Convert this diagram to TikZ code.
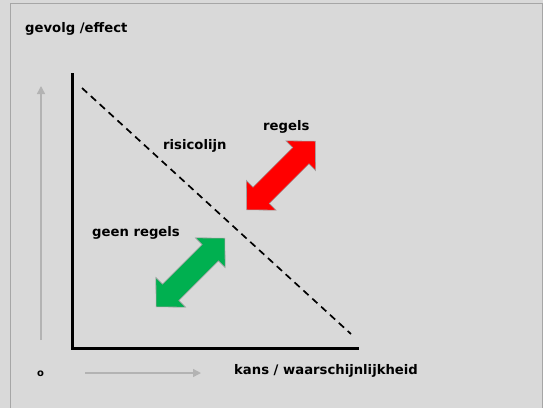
\documentclass[tikz,border=0pt]{standalone}
\usepackage{fontspec}
\setmainfont{DejaVu Sans}
\usepackage{xcolor}
\usepackage{tikz}
\usetikzlibrary{arrows.meta,positioning}

\definecolor{achtergrond}{HTML}{D9D9D9}
\definecolor{kader}{HTML}{A6A6A6}
\definecolor{hulppijl}{HTML}{B3B3B3}
\definecolor{pijlrood}{HTML}{FF0000}
\definecolor{pijlgroen}{HTML}{00B050}

\tikzset{
  tekst/.style={font=\bfseries\fontsize{13.2}{15}\selectfont, inner sep=0pt, anchor=base west},
  as/.style={line width=3pt},
  hulp/.style={draw=hulppijl, line width=1.4pt, -{Triangle[length=8pt,width=8pt]}}
}

% dubbele blokpijl: kleur, midden
\newcommand{\dubbelepijl}[2]{%
  \begin{scope}[shift={#2}, rotate=45]
    \draw[draw=gray!75, line width=0.6pt, fill=#1]
      (-48.5,0) -- (-28,21) -- (-28,11.5) -- (28,11.5) -- (28,21) -- (48.5,0)
      -- (28,-21) -- (28,-11.5) -- (-28,-11.5) -- (-28,-21) -- cycle;
  \end{scope}}

\begin{document}
\begin{tikzpicture}[x=1pt, y=-1pt]
    % achtergrond en kader
    \fill[achtergrond] (0,0) rectangle (543,408);
    \useasboundingbox (0,0) rectangle (543,408);
    \draw[kader, line width=1pt] (10,408) -- (10,3.5) -- (543,3.5);
    \draw[kader, line width=1pt] (542,3.5) -- (542,408);

    % teksten
    \node[tekst] (gevolg) at (25,32) {gevolg /effect};
    \node[tekst] (kans) at (234,374) {kans / waarschijnlijkheid};
    \node[tekst, font=\bfseries\fontsize{10}{12}\selectfont] (nul) at (37,376) {o};
    \node[tekst] (risicolijn) at (163,149) {risicolijn};
    \node[tekst] (regels) at (263,130) {regels};
    \node[tekst] (geenregels) at (92,236) {geen regels};

    % hulppijlen
    \coordinate (yonder) at (41,340);
    \coordinate (yboven) at (41,86);
    \coordinate (xlinks) at (85,373);
    \coordinate (xrechts) at (201,373);
    \draw[hulp] (yonder) -- (yboven);
    \draw[hulp] (xlinks) -- (xrechts);

    % assen
    \coordinate (top) at (72,73);
    \coordinate (oorsprong) at (72,348);
    \coordinate (eind) at (359,348);
    \draw[as] (top) -- (oorsprong) -- (eind);

    % risicolijn
    \coordinate (rstart) at (82,88);
    \coordinate (reind) at (351,334);
    \draw[line width=1.7pt, dash pattern=on 7pt off 5pt] (rstart) -- (reind);

    % pijlen
    \dubbelepijl{pijlrood}{(281,175.5)}
    \dubbelepijl{pijlgroen}{(190.5,272.5)}
\end{tikzpicture}
\end{document}
